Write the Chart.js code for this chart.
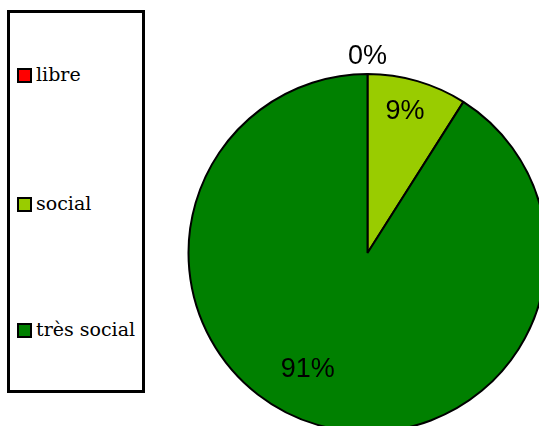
<!DOCTYPE html>
<html>
<head>
<meta charset="utf-8">
<script src="https://cdn.jsdelivr.net/npm/chart.js@4"></script>
<style>
html,body{margin:0;padding:0;background:#fff;width:539px;height:426px;overflow:hidden;}
#wrap{position:relative;width:539px;height:426px;}
#c{position:absolute;left:0;top:0;}
#legend{position:absolute;left:7px;top:10px;width:132px;height:377px;border:3px solid #000;background:#fff;}
.item{position:absolute;left:7px;font-family:"DejaVu Serif",serif;font-size:19px;color:#000;white-space:nowrap;line-height:20px;}
.sw{display:inline-block;border:2px solid #000;margin-right:4px;vertical-align:-2px;box-sizing:border-box;width:15px;height:15px;}
</style>
</head>
<body>
<div id="wrap">
<canvas id="c" width="539" height="426"></canvas>
<div id="legend"></div>
</div>
<script>
const categories = ["libre", "social", "très social"];
const values = [0, 9, 91];
const colors = ["#FF0000", "#99CC00", "#008000"];

// legend (HTML)
const legend = document.getElementById('legend');
const legendTops = [51, 180, 306];
categories.forEach((cat, i) => {
  const d = document.createElement('div');
  d.className = 'item';
  d.style.top = legendTops[i] + 'px';
  const sw = document.createElement('span');
  sw.className = 'sw';
  sw.style.background = colors[i];
  d.appendChild(sw);
  d.appendChild(document.createTextNode(cat));
  legend.appendChild(d);
});

const total = values.reduce((a, b) => a + b, 0);

// label placement: [radius fraction, angle shift in degrees from slice mid-angle]
const labelPlace = [[1.10, 0], [0.815, -1.3], [0.73, 11]];

const pctLabels = {
  id: 'pctLabels',
  afterDatasetsDraw(chart) {
    const ctx = chart.ctx;
    const meta = chart.getDatasetMeta(0);
    ctx.save();
    ctx.font = '27px "Liberation Sans", Arial, sans-serif';
    ctx.fillStyle = '#000';
    ctx.textAlign = 'center';
    ctx.textBaseline = 'middle';
    meta.data.forEach((arc, i) => {
      const p = arc.getProps(['x', 'y', 'startAngle', 'endAngle', 'outerRadius'], true);
      const mid = (p.startAngle + p.endAngle) / 2 + labelPlace[i][1] * Math.PI / 180;
      const r = p.outerRadius * labelPlace[i][0];
      const x = p.x + Math.cos(mid) * r;
      const y = p.y + Math.sin(mid) * r;
      const txt = Math.round(values[i] / total * 100) + '%';
      ctx.fillText(txt, x, y);
    });
    ctx.restore();
  }
};

new Chart(document.getElementById('c'), {
  type: 'pie',
  data: {
    labels: categories,
    datasets: [{
      data: values,
      backgroundColor: colors,
      borderColor: '#000',
      borderWidth: 2
    }]
  },
  options: {
    responsive: false,
    animation: false,
    radius: 179,
    layout: { padding: { left: 196, right: 0, top: 80, bottom: 0 } },
    plugins: {
      legend: { display: false },
      tooltip: { enabled: false }
    }
  },
  plugins: [pctLabels]
});
</script>
</body>
</html>
